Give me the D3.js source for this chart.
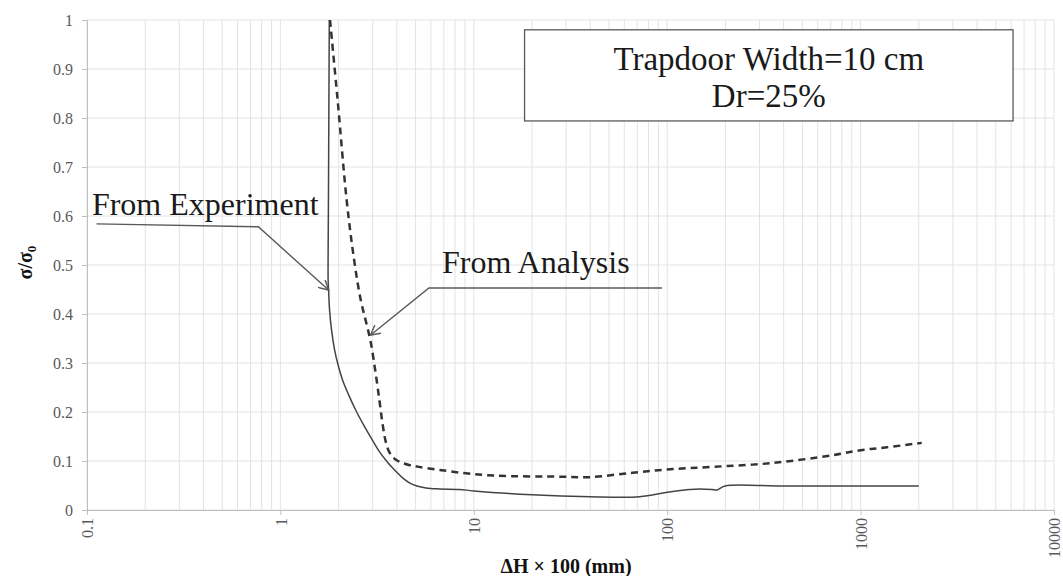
<!DOCTYPE html>
<html><head><meta charset="utf-8">
<script src="https://cdn.jsdelivr.net/npm/d3@7"></script>
<style>html,body{margin:0;padding:0;background:#fff;}svg{display:block;}</style>
</head><body><svg id="c" width="1063" height="576"></svg>
<script>
// Data (x = ΔH×100 in mm, y = σ/σ0)
const experimentX = [1.79,1.78,1.77,1.765,1.765,1.775,1.796,1.839,1.906,1.988,2.098,2.254,2.450,2.697,2.985,3.264,3.570,3.929,4.297,4.671,5.08,5.655,6.61,8.4,10,20,40,72,100,131,170,181,199,400,2000];
const experimentY = [1.0,0.8,0.6,0.52,0.47,0.449,0.408,0.367,0.327,0.296,0.265,0.235,0.204,0.173,0.143,0.118,0.098,0.080,0.065,0.055,0.049,0.045,0.043,0.042,0.039,0.031,0.027,0.027,0.036,0.042,0.042,0.041,0.049,0.049,0.049];
const analysisX = [1.805,1.976,2.200,2.406,2.601,2.755,2.917,3.090,3.250,3.383,3.507,3.657,3.858,4.146,4.616,5.2,6.6,9.1,13.0,28.8,39.7,66,103,172,353,720,1000,1370,2070];
const analysisY = [1.0,0.837,0.633,0.510,0.429,0.388,0.347,0.286,0.224,0.173,0.139,0.118,0.106,0.098,0.092,0.088,0.082,0.075,0.070,0.068,0.067,0.076,0.083,0.088,0.096,0.112,0.122,0.128,0.137];
const xTicks = [0.1,1,10,100,1000,10000];
const xTickLabels = ["0.1","1","10","100","1000","10000"];
const yTicks = [0,0.1,0.2,0.3,0.4,0.5,0.6,0.7,0.8,0.9,1];
const yTickLabels = ["0","0.1","0.2","0.3","0.4","0.5","0.6","0.7","0.8","0.9","1"];
const boxLines = ["Trapdoor Width=10 cm","Dr=25%"];
const annotExpText = "From Experiment";
const annotAnaText = "From Analysis";
// annotation anchors (data units): text position, line start, elbow, arrow tip
const annotExp = {text:[0.106,0.602], path:[[0.112,0.584],[0.769,0.578],[1.775,0.449]]};
const annotAna = {text:[6.85,0.484], path:[[93.9,0.453],[5.86,0.453],[2.93,0.357]]};
const boxExtent = {x0:18.3, x1:6140, y0:0.98, y1:0.794};

const svg = d3.select("#c");
const W = 1063, H = 576;
const m = {l:87, r:9, t:20, b:66};
const x = d3.scaleLog().domain([0.1,10000]).range([m.l, W-m.r]);
const y = d3.scaleLinear().domain([0,1]).range([H-m.b, m.t]);
const serif = "'Liberation Serif','Times New Roman',serif";

// grid
const minor = [];
for (let e=-1;e<4;e++) for (let k=1;k<10;k++) minor.push(k*Math.pow(10,e));
minor.push(10000);
const g = svg.append("g");
g.selectAll("line.vg").data(minor).join("line")
  .attr("x1",d=>x(d)).attr("x2",d=>x(d)).attr("y1",y(0)).attr("y2",y(1))
  .attr("stroke","#e3e3e3").attr("stroke-width",1);
g.selectAll("line.hg").data(yTicks).join("line")
  .attr("x1",x(0.1)).attr("x2",x(10000)).attr("y1",d=>y(d)).attr("y2",d=>y(d))
  .attr("stroke","#e3e3e3").attr("stroke-width",1);

// axes
const xAxis = d3.axisBottom(x).tickValues(xTicks).tickFormat((d,i)=>xTickLabels[i]).tickSize(5).tickPadding(4);
const xg = svg.append("g").attr("transform",`translate(0,${y(0)})`).call(xAxis);
xg.attr("font-family",serif);
xg.select(".domain").attr("stroke","#bfbfbf");
xg.selectAll(".tick line").attr("stroke","#bfbfbf");
xg.selectAll(".tick text").style("font-family",serif).style("font-size","16px").attr("fill","#595959")
  .attr("transform","rotate(-90)").attr("text-anchor","end").attr("dy","0.35em").attr("x",-8).attr("y",0);

const yAxis = d3.axisLeft(y).tickValues(yTicks).tickFormat((d,i)=>yTickLabels[i]).tickSize(5).tickPadding(9);
const yg = svg.append("g").attr("transform",`translate(${x(0.1)},0)`).call(yAxis);
yg.attr("font-family",serif);
yg.select(".domain").attr("stroke","#bfbfbf");
yg.selectAll(".tick line").attr("stroke","#bfbfbf");
yg.selectAll(".tick text").style("font-family",serif).style("font-size","16px").attr("fill","#595959");

// axis titles
const yt = svg.append("text").attr("transform",`translate(32,${y(0.505)}) rotate(-90)`)
  .attr("text-anchor","middle").style("font-family",serif).attr("font-weight","bold").style("font-size","20px").attr("fill","#111");
yt.append("tspan").text("σ/σ");
yt.append("tspan").text("0").style("font-size","13px").attr("dy",4);
svg.append("text").attr("x",566).attr("y",573).attr("text-anchor","middle")
  .style("font-family",serif).attr("font-weight","bold").style("font-size","20px").attr("fill","#111")
  .text("ΔH × 100 (mm)");

// curves
const line2 = d3.line().x(d=>x(d[0])).y(d=>y(d[1])).curve(d3.curveCatmullRom.alpha(0.5));
const expPts = experimentX.map((v,i)=>[v,experimentY[i]]);
const anaPts = analysisX.map((v,i)=>[v,analysisY[i]]);
svg.append("path").attr("d",line2(expPts)).attr("fill","none").attr("stroke","#444").attr("stroke-width",1.5);
svg.append("path").attr("d",line2(anaPts)).attr("fill","none").attr("stroke","#333").attr("stroke-width",2.5).attr("stroke-dasharray","7,5");

// text box
svg.append("rect").attr("x",x(boxExtent.x0)).attr("y",y(boxExtent.y0))
  .attr("width",x(boxExtent.x1)-x(boxExtent.x0)).attr("height",y(boxExtent.y1)-y(boxExtent.y0))
  .attr("fill","#fff").attr("stroke","#595959").attr("stroke-width",1.3);
const bx = (x(boxExtent.x0)+x(boxExtent.x1))/2;
svg.append("text").attr("x",bx).attr("y",70).attr("text-anchor","middle").style("font-family",serif).style("font-size","33px").attr("fill","#1a1a1a").text(boxLines[0]);
svg.append("text").attr("x",bx).attr("y",107).attr("text-anchor","middle").style("font-family",serif).style("font-size","33px").attr("fill","#1a1a1a").text(boxLines[1]);

// annotations
svg.append("defs").append("marker").attr("id","arr").attr("viewBox","0 0 10 10").attr("refX",9).attr("refY",5)
  .attr("markerWidth",11).attr("markerHeight",11).attr("markerUnits","userSpaceOnUse").attr("orient","auto")
  .append("path").attr("d","M0,0 L9,5 L0,10").attr("fill","none").attr("stroke","#595959").attr("stroke-width",1.3);
const pl = d3.line().x(d=>x(d[0])).y(d=>y(d[1]));
[annotExp, annotAna].forEach((a,i)=>{
  svg.append("path").attr("d",pl(a.path)).attr("fill","none").attr("stroke","#595959").attr("stroke-width",1.4).attr("marker-end","url(#arr)");
  svg.append("text").attr("x",x(a.text[0])).attr("y",y(a.text[1])).style("font-family",serif).style("font-size","32px").attr("fill","#1a1a1a")
    .text(i===0?annotExpText:annotAnaText);
});
</script></body></html>
